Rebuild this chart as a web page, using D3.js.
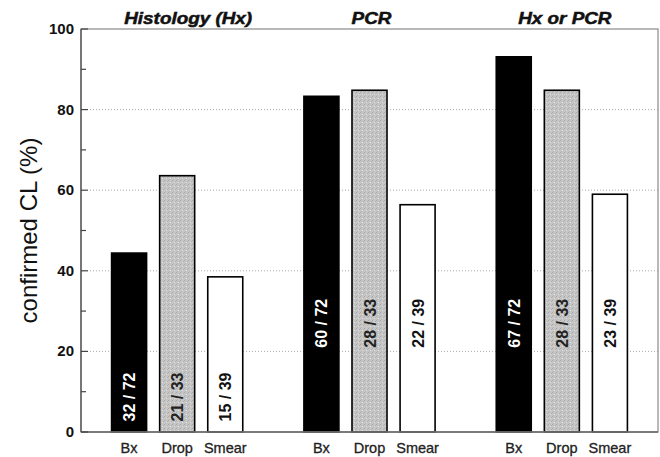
<!DOCTYPE html>
<html>
  <head>
    <title>confirmed CL</title>
    <script src="https://d3js.org/d3.v7.min.js"></script>
    <style>
      body { margin: 0; background: #fff; }
      text { font-family: "Liberation Sans", Arial, sans-serif; }
    </style>
  </head>
  <body>
  </body>
  <script>

var width = 660;
var height = 457;

// groups and samples
var groups = ["Histology (Hx)", "PCR", "Hx or PCR"];
var samples = ["Bx", "Drop", "Smear"];

// percent confirmed, per group, in sample order
var histValues = [44.4, 63.6, 38.5];
var pcrValues = [83.3, 84.8, 56.4];
var eitherValues = [93.1, 84.8, 59.0];

// counts written in the bars
var histLabels = ["32 / 72", "21 / 33", "15 / 39"];
var pcrLabels = ["60 / 72", "28 / 33", "22 / 39"];
var eitherLabels = ["67 / 72", "28 / 33", "23 / 39"];

var yTicks = [0, 20, 40, 60, 80, 100];
var yMinor = [10, 30, 50, 70, 90];

var allValues = [histValues, pcrValues, eitherValues];
var allLabels = [histLabels, pcrLabels, eitherLabels];

var plotLeft = 81, plotRight = 658, plotTop = 29, plotBottom = 432;

var svg = d3.select("body").append("svg")
    .attr("width", width)
    .attr("height", height);

// stipple for the Drop bars
var defs = svg.append("defs");
var pat = defs.append("pattern")
    .attr("id", "stipple")
    .attr("width", 4).attr("height", 4)
    .attr("patternUnits", "userSpaceOnUse");
pat.append("rect").attr("width", 4).attr("height", 4).attr("fill", "#c6c6c6");
pat.append("rect").attr("x", 0).attr("y", 0).attr("width", 1).attr("height", 1).attr("fill", "#a8a8a8");
pat.append("rect").attr("x", 2).attr("y", 2).attr("width", 1).attr("height", 1).attr("fill", "#dedede");
pat.append("rect").attr("x", 3).attr("y", 1).attr("width", 1).attr("height", 1).attr("fill", "#b2b2b2");
pat.append("rect").attr("x", 1).attr("y", 3).attr("width", 1).attr("height", 1).attr("fill", "#b8b8b8");

// slots: 3 bars per group plus one empty slot between groups
var x = d3.scaleLinear().domain([-1, 11]).range([plotLeft, plotRight]);
var y = d3.scaleLinear().domain([0, 100]).range([plotBottom, plotTop]);
var barW = 35;

var bars = [];
allValues.forEach(function(vals, g) {
    vals.forEach(function(v, i) {
        bars.push({ group: g, sample: i, slot: g * 4 + i, value: v, label: allLabels[g][i] });
    });
});

var fills = ["#000", "url(#stipple)", "#fff"];
var textFills = ["#fff", "#222", "#111"];

// dotted grid
svg.append("g").selectAll("line")
    .data(yTicks.filter(function(d) { return d > 0 && d < 100; }))
    .enter().append("line")
    .attr("x1", plotLeft + 9).attr("x2", plotRight)
    .attr("y1", function(d) { return y(d); })
    .attr("y2", function(d) { return y(d); })
    .attr("stroke", "#aaa")
    .attr("stroke-width", 1)
    .attr("stroke-dasharray", "1,2");

// bars
svg.append("g").selectAll("rect")
    .data(bars)
    .enter().append("rect")
    .attr("x", function(d) { return x(d.slot) - barW / 2; })
    .attr("y", function(d) { return y(d.value); })
    .attr("width", barW)
    .attr("height", function(d) { return y(0) - y(d.value); })
    .attr("fill", function(d) { return fills[d.sample]; })
    .attr("stroke", "#000")
    .attr("stroke-width", 1.6);

// counts in bars
svg.append("g").selectAll("text")
    .data(bars)
    .enter().append("text")
    .attr("transform", function(d) {
        var cy = d.group == 0 ? y(8.7) : y(27);
        return "translate(" + (x(d.slot) + 6) + "," + cy + ") rotate(-90)";
    })
    .attr("text-anchor", "middle")
    .attr("font-size", 16)
    .attr("font-weight", "bold")
    .attr("fill", function(d) { return textFills[d.sample]; })
    .text(function(d) { return d.label; });

// frame
svg.append("rect")
    .attr("x", plotLeft).attr("y", plotTop)
    .attr("width", plotRight - plotLeft).attr("height", plotBottom - plotTop)
    .attr("fill", "none")
    .attr("stroke", "#8a8a8a")
    .attr("stroke-width", 1.2);
svg.append("line")
    .attr("x1", plotLeft).attr("x2", plotRight)
    .attr("y1", plotBottom).attr("y2", plotBottom)
    .attr("stroke", "#666")
    .attr("stroke-width", 1.6);
svg.append("line")
    .attr("x1", plotLeft).attr("x2", plotLeft)
    .attr("y1", plotTop).attr("y2", plotBottom)
    .attr("stroke", "#666")
    .attr("stroke-width", 1.6);

// y axis ticks
var yAxis = svg.append("g");
yAxis.selectAll("line.major")
    .data(yTicks)
    .enter().append("line")
    .attr("class", "major")
    .attr("x1", plotLeft).attr("x2", plotLeft + 7)
    .attr("y1", function(d) { return y(d); })
    .attr("y2", function(d) { return y(d); })
    .attr("stroke", "#444").attr("stroke-width", 1.2);
yAxis.selectAll("line.minor")
    .data(yMinor)
    .enter().append("line")
    .attr("class", "minor")
    .attr("x1", plotLeft).attr("x2", plotLeft + 5)
    .attr("y1", function(d) { return y(d); })
    .attr("y2", function(d) { return y(d); })
    .attr("stroke", "#444").attr("stroke-width", 1.2);
yAxis.selectAll("text")
    .data(yTicks)
    .enter().append("text")
    .attr("x", plotLeft - 7)
    .attr("y", function(d) { return y(d) + 5; })
    .attr("text-anchor", "end")
    .attr("font-size", 15)
    .attr("font-weight", "bold")
    .attr("fill", "#111")
    .text(function(d) { return d; });

svg.append("text")
    .attr("transform", "translate(37," + ((plotTop + plotBottom) / 2) + ") rotate(-90)")
    .attr("text-anchor", "middle")
    .attr("font-size", 24)
    .attr("fill", "#111")
    .text("confirmed CL (%)");

// x labels
svg.append("g").selectAll("text")
    .data(bars)
    .enter().append("text")
    .attr("x", function(d) { return x(d.slot); })
    .attr("y", 453)
    .attr("text-anchor", "middle")
    .attr("font-size", 14.5)
    .attr("fill", "#222")
    .attr("stroke", "#222")
    .attr("stroke-width", 0.3)
    .text(function(d) { return samples[d.sample]; });

// group titles (slightly widened like the source image)
var titleShift = [11, 2, 3];
svg.append("g").selectAll("text")
    .data(groups)
    .enter().append("text")
    .attr("transform", function(d, i) {
        return "translate(" + (x(i * 4 + 1) + titleShift[i]) + ",24) scale(1.18,1)";
    })
    .attr("text-anchor", "middle")
    .attr("font-size", 16)
    .attr("font-weight", "bold")
    .attr("font-style", "italic")
    .attr("fill", "#111")
    .attr("stroke", "#111")
    .attr("stroke-width", 0.5)
    .text(function(d) { return d; });

  </script>
</html>
